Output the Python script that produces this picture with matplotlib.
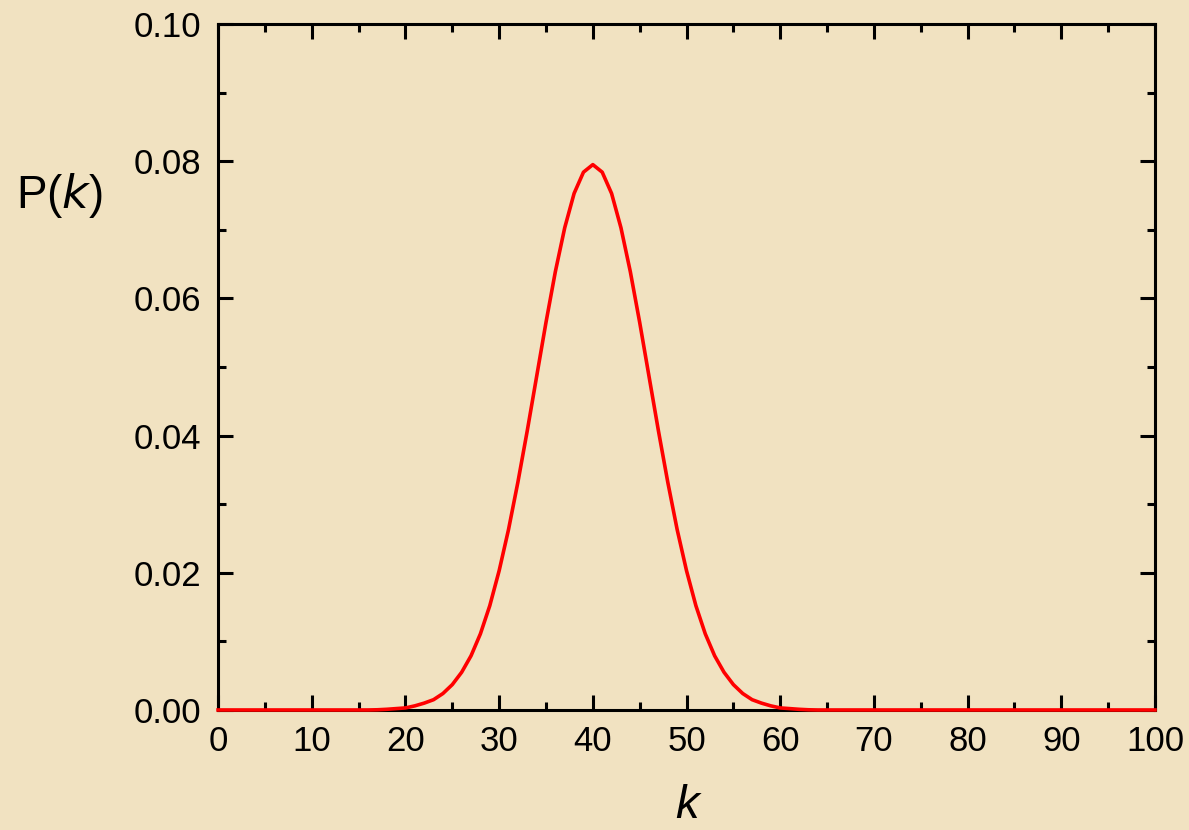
import numpy as np
import matplotlib
matplotlib.use("Agg")
import matplotlib.pyplot as plt

# values, one per integer k (0..100)
k = np.arange(0, 101)
p_left = [0.0, 0.0, 0.0, 0.0, 0.0, 0.0, 0.0, 0.0, 0.0, 0.0,
          0.0, 0.0, 0.0, 0.0, 0.0, 0.0, 0.0, 0.00003, 0.0001, 0.0002,
          0.0003, 0.0006, 0.0010, 0.0015, 0.0024, 0.0037, 0.0055, 0.0079, 0.0111, 0.0152,
          0.0203, 0.0263, 0.0332, 0.0407, 0.0486, 0.0565, 0.0639, 0.0703, 0.0753, 0.0784]
p_peak = [0.0795]
p_right = [0.0784, 0.0753, 0.0703, 0.0639, 0.0565, 0.0486, 0.0407, 0.0332, 0.0263, 0.0203,
           0.0152, 0.0111, 0.0079, 0.0055, 0.0037, 0.0024, 0.0015, 0.0010, 0.0006, 0.0003,
           0.0002, 0.0001, 0.00003, 0.0, 0.0, 0.0, 0.0, 0.0, 0.0, 0.0,
           0.0, 0.0, 0.0, 0.0, 0.0, 0.0, 0.0, 0.0, 0.0, 0.0,
           0.0, 0.0, 0.0, 0.0, 0.0, 0.0, 0.0, 0.0, 0.0, 0.0,
           0.0, 0.0, 0.0, 0.0, 0.0, 0.0, 0.0, 0.0, 0.0, 0.0]
pk = np.array(p_left + p_peak + p_right)

x_ticks = [0, 10, 20, 30, 40, 50, 60, 70, 80, 90, 100]
y_ticks = [0.00, 0.02, 0.04, 0.06, 0.08, 0.10]

bg = "#f1e2c1"
plt.rcParams['font.family'] = ['Liberation Sans', 'DejaVu Sans']

fig = plt.figure(figsize=(11.89, 8.30), dpi=100, facecolor=bg)
ax = fig.add_axes([0.1834, 0.1446, 0.9714 - 0.1834, 0.9711 - 0.1446])
ax.set_facecolor(bg)

ax.plot(k, pk, color="#ff0000", lw=2.6, clip_on=False, zorder=3)

ax.set_xlim(0, 100)
ax.set_ylim(0, 0.10)
ax.set_xticks(x_ticks)
ax.set_yticks(y_ticks)
ax.set_xticks(np.arange(5, 100, 10), minor=True)
ax.set_yticks(np.arange(0.01, 0.10, 0.02), minor=True)
ax.set_yticklabels(["%.2f" % v for v in y_ticks])

for s in ax.spines.values():
    s.set_linewidth(2.2)
ax.tick_params(which="both", direction="in", top=True, right=True, width=2.2,
               labelsize=25, colors="black")
ax.tick_params(which="major", length=11)
ax.tick_params(which="minor", length=6)
ax.tick_params(axis="x", pad=11)
ax.tick_params(axis="y", pad=12)

fig.text(0.050, 0.765, r"P($\mathit{k}$)", fontsize=33, ha="center", va="center")
fig.text(0.578, 0.014, "k", fontsize=34, style="italic", ha="center", va="baseline")

fig.savefig("out.png", dpi=100, facecolor=bg)
